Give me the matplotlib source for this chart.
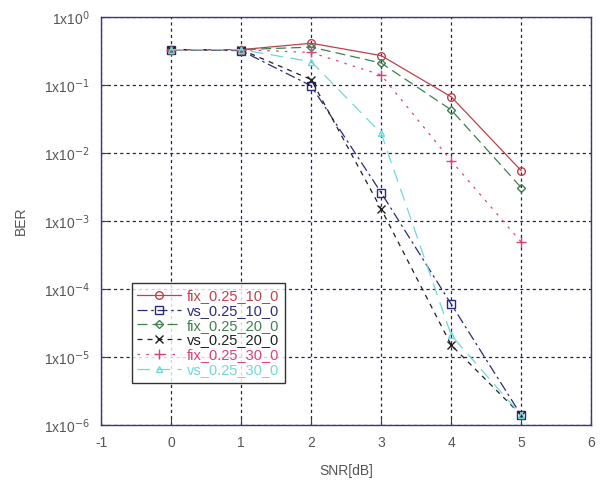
import matplotlib
matplotlib.use("Agg")
import matplotlib.pyplot as plt
import numpy as np

snr = [0, 1, 2, 3, 4, 5]
fix_10 = [0.33, 0.33, 0.41, 0.27, 0.067, 0.0055]
vs_10 = [0.33, 0.32, 0.097, 0.0026, 6.0e-5, 1.4e-6]
fix_20 = [0.33, 0.33, 0.36, 0.21, 0.043, 0.0031]
vs_20 = [0.33, 0.33, 0.12, 0.0015, 1.5e-5, 1.4e-6]
fix_30 = [0.33, 0.33, 0.30, 0.14, 0.0077, 0.00049]
vs_30 = [0.33, 0.33, 0.22, 0.0195, 2.1e-5, 1.4e-6]
labels = ["fix_0.25_10_0", "vs_0.25_10_0", "fix_0.25_20_0",
          "vs_0.25_20_0", "fix_0.25_30_0", "vs_0.25_30_0"]
xticks = [-1, 0, 1, 2, 3, 4, 5, 6]
yexp = [0, -1, -2, -3, -4, -5, -6]

plt.rcParams['font.family'] = ['Liberation Sans', 'DejaVu Sans']

fig = plt.figure(figsize=(6.02, 4.83), dpi=100)
ax = fig.add_axes([0.168, 0.120, 0.814, 0.845])

series = [fix_10, vs_10, fix_20, vs_20, fix_30, vs_30]
colors = ['#c0404a', '#2a2a80', '#3f8050', '#202020', '#e0407a', '#70d8d8']
markers = ['o', 's', 'D', 'x', '+', '^']
msizes = [5.5, 5.5, 4.0, 6, 7, 5]
styles = ['-', (0, (8, 3, 2, 3)), (0, (8, 4)), (0, (4, 4)), (0, (2, 5)), (0, (10, 6))]

for y, c, m, ms, ls, lab in zip(series, colors, markers, msizes, styles, labels):
    ax.plot(snr, y, color=c, linestyle=ls, linewidth=0.9, marker=m,
            markersize=ms, markerfacecolor='none', markeredgecolor=c,
            markeredgewidth=1.0, label=lab)

ax.set_yscale('log')
ax.set_xlim(-1, 6)
ax.set_ylim(1e-6, 1)
ax.set_xticks(xticks)
ax.set_xticklabels([str(v) for v in xticks])
ax.set_yticks([10.0 ** e for e in yexp])
ax.set_yticklabels([r'1x10$^{%d}$' % e for e in yexp])
ax.minorticks_off()
ax.tick_params(axis='both', direction='in', length=5, colors='#3a3a7a',
               labelcolor='#555555', labelsize=10, pad=8)
ax.grid(True, which='major', color='#20205a', linestyle=(0, (2.5, 2.5)), linewidth=0.9)
for s in ax.spines.values():
    s.set_color('#3a3a7a')
    s.set_linewidth(1.0)

ax.set_xlabel('SNR[dB]', fontsize=10, color='#555555', labelpad=10)
ax.set_ylabel('BER', fontsize=10, color='#555555', labelpad=12)

leg = ax.legend(loc='lower left', bbox_to_anchor=(0.062, 0.104), fontsize=10.5,
                frameon=True, fancybox=False, edgecolor='black',
                handlelength=3.0, handletextpad=0.4, labelspacing=0.05,
                borderpad=0.4, borderaxespad=0)
leg.get_frame().set_linewidth(1.0)
for t, c in zip(leg.get_texts(), colors):
    t.set_color(c)

fig.savefig('out.png', dpi=100)
